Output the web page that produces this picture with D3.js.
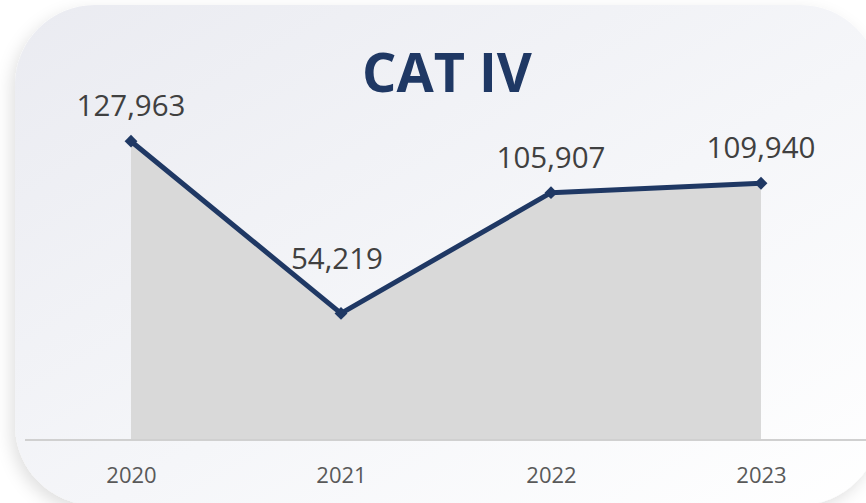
<!DOCTYPE html>
<html>
<head>
<meta charset="utf-8">
<script src="https://cdn.jsdelivr.net/npm/d3@7"></script>
<style>
  html, body { margin: 0; padding: 0; background: #ffffff; }
  svg { display: block; font-family: "Open Sans", sans-serif; }
</style>
</head>
<body>
<div class="chart"></div>
<script>
var years = ["2020", "2021", "2022", "2023"];
var values = [127963, 54219, 105907, 109940];
var title = "CAT IV";

var width = 866, height = 503;
var margin = { left: 26, right: 0, baseline: 440 };

var svg = d3
  .select(".chart")
  .append("svg")
  .attr("width", width)
  .attr("height", height);

var defs = svg.append("defs");
var grad = defs
  .append("linearGradient")
  .attr("id", "cardGrad")
  .attr("x1", "0%")
  .attr("y1", "0%")
  .attr("x2", "100%")
  .attr("y2", "100%");
grad.append("stop").attr("offset", "0%").attr("stop-color", "#eaebf1");
grad.append("stop").attr("offset", "55%").attr("stop-color", "#f5f6f9");
grad.append("stop").attr("offset", "100%").attr("stop-color", "#ffffff");

var shadow = defs
  .append("filter")
  .attr("id", "cardShadow")
  .attr("x", "-10%")
  .attr("y", "-10%")
  .attr("width", "130%")
  .attr("height", "130%");
shadow
  .append("feDropShadow")
  .attr("dx", -4)
  .attr("dy", 6)
  .attr("stdDeviation", 8)
  .attr("flood-color", "#000000")
  .attr("flood-opacity", 0.12);

// card
svg
  .append("rect")
  .attr("x", 15)
  .attr("y", 5)
  .attr("width", 865)
  .attr("height", 500)
  .attr("rx", 80)
  .attr("ry", 80)
  .attr("fill", "url(#cardGrad)")
  .attr("filter", "url(#cardShadow)");

var x = d3
  .scalePoint()
  .domain(years)
  .range([margin.left, width - margin.right])
  .padding(0.5);

var y = d3
  .scaleLinear()
  .domain([0, 140000])
  .range([margin.baseline, margin.baseline - 140000 * 0.002335]);

var data = years.map(function (d, i) {
  return { year: d, value: values[i] };
});

// area
svg
  .append("path")
  .datum(data)
  .attr("fill", "#d9d9d9")
  .attr(
    "d",
    d3
      .area()
      .x(function (d) { return x(d.year); })
      .y0(y(0))
      .y1(function (d) { return y(d.value); })
  );

// axis
var axis = svg
  .append("g")
  .attr("transform", "translate(0," + y(0) + ")")
  .call(d3.axisBottom(x).tickSize(0).tickPadding(0));
axis.select(".domain")
  .attr("d", "M" + (margin.left - 1) + ",0H" + width)
  .attr("stroke", "#d0d0d0")
  .attr("stroke-width", 2);
axis.selectAll("text")
  .attr("dy", null)
  .attr("y", 43)
  .style("font-family", "Open Sans, sans-serif")
  .style("font-size", "22px")
  .attr("fill", "#595959");

// line
svg
  .append("path")
  .datum(data)
  .attr("fill", "none")
  .attr("stroke", "#1f3864")
  .attr("stroke-width", 5)
  .attr("stroke-linejoin", "round")
  .attr(
    "d",
    d3
      .line()
      .x(function (d) { return x(d.year); })
      .y(function (d) { return y(d.value); })
  );

// markers
svg
  .selectAll(".marker")
  .data(data)
  .enter()
  .append("path")
  .attr("class", "marker")
  .attr("d", d3.symbol().type(d3.symbolDiamond2).size(105))
  .attr("fill", "#1f3864")
  .attr("transform", function (d) {
    return "translate(" + x(d.year) + "," + y(d.value) + ")";
  });

// labels
var fmt = d3.format(",");
function isDip(d, i) {
  return i > 0 && i < data.length - 1 &&
    d.value < data[i - 1].value && d.value < data[i + 1].value;
}
svg
  .selectAll(".label")
  .data(data)
  .enter()
  .append("text")
  .attr("class", "label")
  .attr("x", function (d, i) {
    return x(d.year) - (isDip(d, i) ? 4 : 0);
  })
  .attr("y", function (d, i) {
    return y(d.value) - (isDip(d, i) ? 44 : 25);
  })
  .attr("text-anchor", "middle")
  .style("font-size", "29.5px")
  .attr("fill", "#404040")
  .text(function (d) { return fmt(d.value); });

// title
svg
  .append("text")
  .attr("x", 447)
  .attr("y", 92)
  .attr("text-anchor", "middle")
  .style("font-size", "54px")
  .style("font-weight", "bold")
  .attr("fill", "#1f3864")
  .text(title);
</script>
</body>
</html>
